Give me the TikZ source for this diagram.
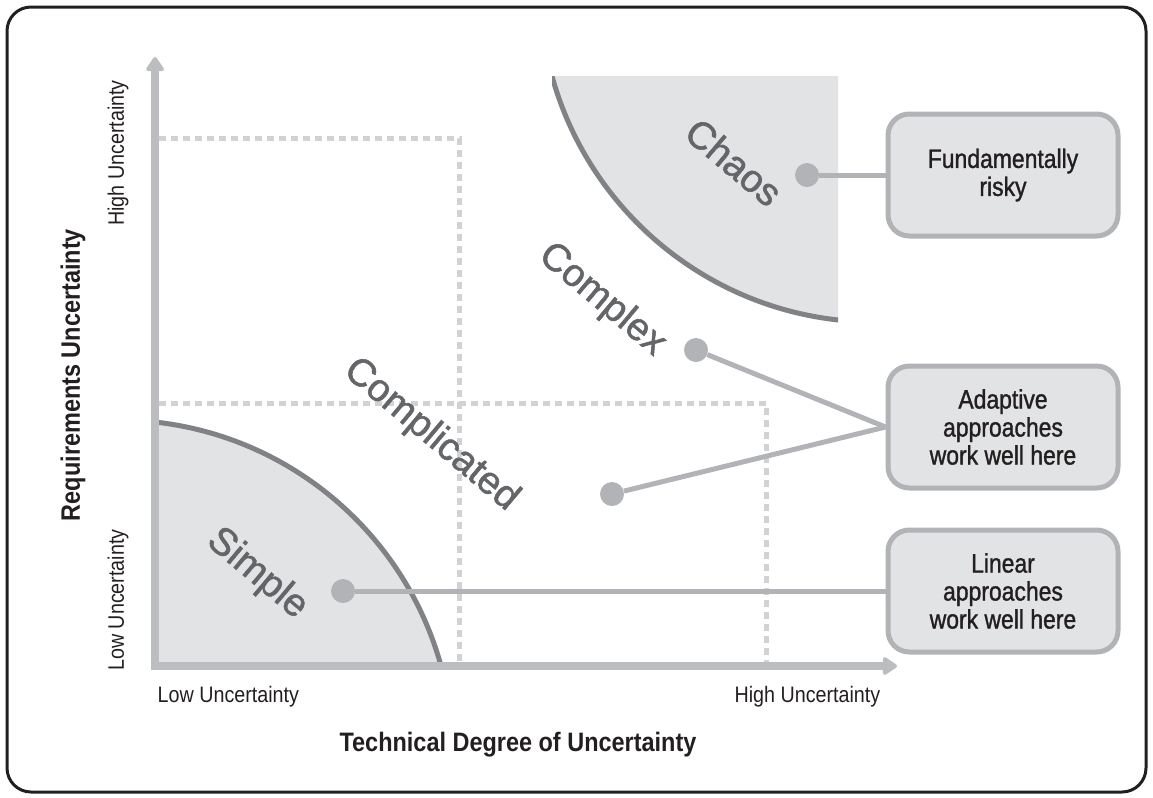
\documentclass[tikz,border=0pt]{standalone}
\usepackage{fontspec}
\setmainfont{Liberation Sans}
\newfontfamily\condfont{Liberation Sans}[FakeStretch=0.88]
\newfontfamily\notefont{Liberation Sans}[FakeStretch=0.86, FakeBold=1.2]
\newfontfamily\zonefont{Liberation Sans}[FakeBold=1.4]
\usetikzlibrary{arrows.meta}

\definecolor{inkblack}{HTML}{231F20}
\definecolor{axisgray}{HTML}{BCBDC0}
\definecolor{guidegray}{HTML}{D1D2D4}
\definecolor{arcgray}{HTML}{808285}
\definecolor{zonefill}{HTML}{E2E3E4}
\definecolor{leadgray}{HTML}{B1B3B6}
\definecolor{labelgray}{HTML}{646568}

\begin{document}
\begin{tikzpicture}[x=0.75pt, y=-0.75pt]
\tikzstyle{panel} = [draw=inkblack, line width=2.25pt, rounded corners=18pt]
\tikzstyle{axisline} = [draw=axisgray, line width=6pt, >={Triangle[length=12pt,width=15pt,round]}, <->]
\tikzstyle{guide} = [draw=guidegray, line width=3.75pt, dash pattern=on 5.25pt off 3.75pt]
\tikzstyle{zone} = [fill=zonefill]
\tikzstyle{zoneedge} = [draw=arcgray, line width=3.75pt]
\tikzstyle{region} = [text=labelgray, font=\zonefont\fontsize{29}{29}\selectfont, rotate=-40]
\tikzstyle{dotnode} = [circle, fill=leadgray, minimum size=18pt, inner sep=0pt]
\tikzstyle{leader} = [draw=leadgray, line width=3.75pt]
\tikzstyle{note} = [draw=leadgray, fill=zonefill, line width=3.75pt, rounded corners=16pt, minimum width=172.5pt, minimum height=91.5pt, align=center, text=inkblack, font=\notefont\fontsize{20}{21}\selectfont]
\tikzstyle{ticklabel} = [text=inkblack, font=\condfont\fontsize{16.8}{18}\selectfont]
\tikzstyle{axistitle} = [text=inkblack, font=\condfont\bfseries\fontsize{20}{22}\selectfont]

\useasboundingbox (0,0) rectangle (1153,797);

% zones
\begin{scope}
\clip (155,666) rectangle (470,400);
\fill[zone] (118,755) circle[radius=335];
\draw[zoneedge] (118,755) circle[radius=335];
\end{scope}
\begin{scope}
\clip (552,76) rectangle (838,330);
\fill[zone] (875,-13) circle[radius=335];
\draw[zoneedge] (875,-13) circle[radius=335];
\end{scope}

% dashed guides and axes
\draw[guide] (159,138) -| (459,666);
\draw[guide] (159,403) -| (766,666);
\draw[axisline] (155,57) -- (155,666) -- (897,666);

% region labels
\node[region] (chaos) at (734,162) {Chaos};
\node[region] (complex) at (602,300) {Complex};
\node[region] (complicated) at (431,435) {Complicated};
\node[region] (simple) at (257,574) {Simple};

% notes
\node[note] (risky) at (1003,175) {Fundamentally\\risky};
\node[note] (adaptive) at (1003,427) {Adaptive\\approaches\\work well here};
\node[note] (linear) at (1003,591) {Linear\\approaches\\work well here};

\node[dotnode] (chaosdot) at (807,175) {};
\node[dotnode] (complexdot) at (696,350) {};
\node[dotnode] (complicateddot) at (612,494) {};
\node[dotnode] (simpledot) at (343,591) {};

\draw[leader] (chaosdot) -- (risky.west);
\draw[leader] (complexdot) -- (adaptive.west);
\draw[leader] (complicateddot) -- (adaptive.west);
\draw[leader] (simpledot) -- (linear.west);

% axis labels
\node[ticklabel, anchor=west] (xlow) at (153,697) {Low Uncertainty};
\node[ticklabel, anchor=east] (xhigh) at (885,697) {High Uncertainty};
\node[ticklabel, rotate=90] (ylow) at (118,600) {Low Uncertainty};
\node[ticklabel, rotate=90] (yhigh) at (118,153) {High Uncertainty};
\node[axistitle] (xtitle) at (518,745) {Technical Degree of Uncertainty};
\node[axistitle, rotate=90] (ytitle) at (73,375) {Requirements Uncertainty};

\draw[panel] (7,7) rectangle (1146,792);
\end{tikzpicture}
\end{document}
